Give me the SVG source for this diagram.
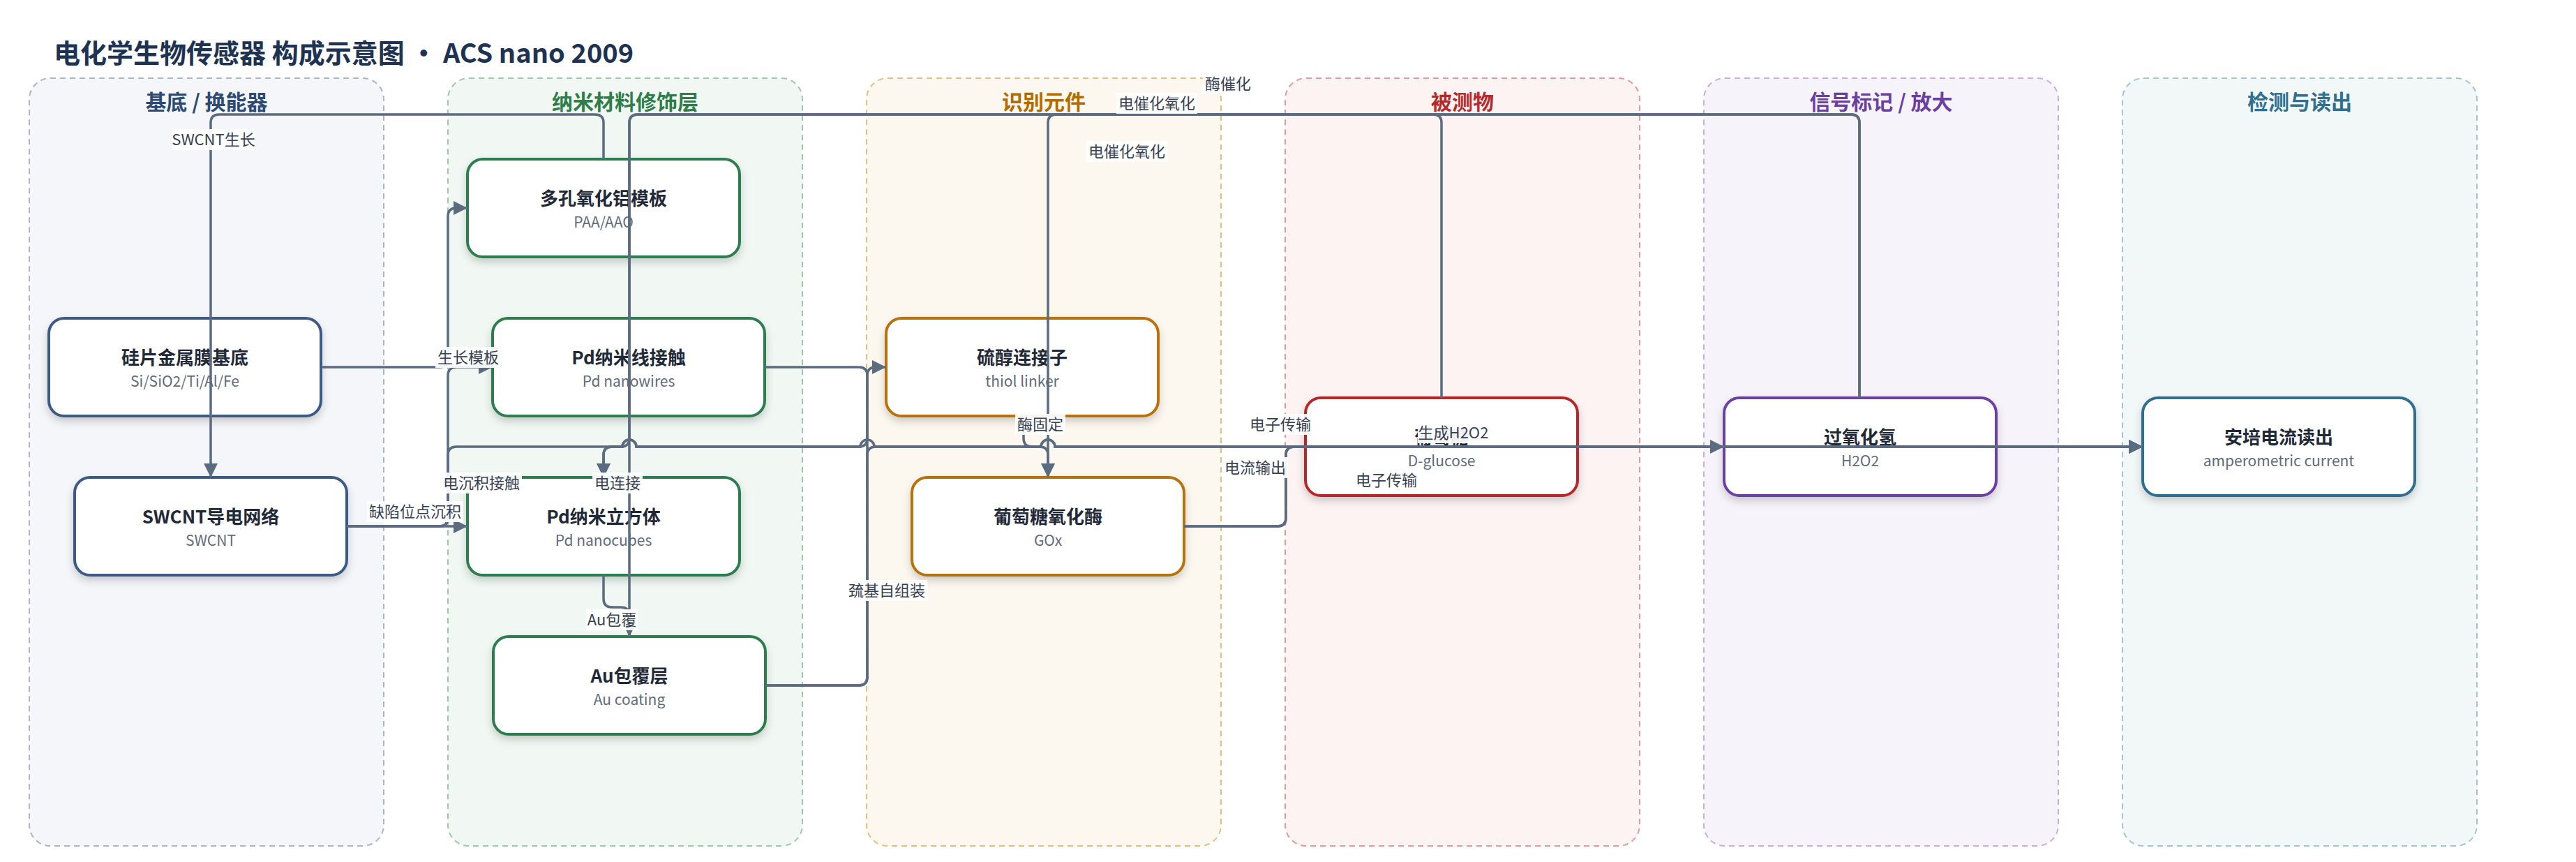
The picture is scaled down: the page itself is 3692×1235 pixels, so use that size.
<svg xmlns="http://www.w3.org/2000/svg" width="3692" height="1235" viewBox="0 0 3692 1235">
<defs>
<style>
text{font-family:"Noto Sans CJK SC","Noto Sans",sans-serif}
.title{font-size:38px;font-weight:700;fill:#1e3352}
.lt{font-size:30px;font-weight:700;text-anchor:middle}
.lane{stroke-width:2;stroke-dasharray:8 6}
.node{fill:#fff;stroke-width:4;filter:url(#sh)}
.nt{font-size:26px;font-weight:700;fill:#1f2937;text-anchor:middle}
.ns{font-size:21px;fill:#5f6b7a;text-anchor:middle}
.edge{fill:none;stroke:#5b6b80;stroke-width:3.5;marker-end:url(#arr)}
.lb{fill:#fff;fill-opacity:0.92}
.el{font-size:22px;fill:#374151;text-anchor:middle}
</style>
<filter id="sh" x="-10%" y="-10%" width="120%" height="140%">
<feDropShadow dx="0" dy="6" stdDeviation="6" flood-color="#000" flood-opacity="0.18"/>
</filter>
<marker id="arr" markerUnits="userSpaceOnUse" markerWidth="20" markerHeight="20" refX="20" refY="10" orient="auto">
<path d="M0,0 L20,10 L0,20 z" fill="#5b6b80"/>
</marker>
</defs>
<rect width="3692" height="1235" fill="#fff"/>
<text class="title" x="77" y="90">电化学生物传感器 构成示意图 · ACS nano 2009</text>

<g id="lanes">
<g id="lane-substrate"><rect class="lane" x="42" y="112" width="508" height="1100" rx="30" fill="#f4f6fa" stroke="#a9b5c9"/><text class="lt" x="296" y="157" fill="#2c4a72">基底 / 换能器</text></g>
<g id="lane-nano"><rect class="lane" x="642" y="112" width="508" height="1100" rx="30" fill="#f1f8f3" stroke="#9ccaa9"/><text class="lt" x="896" y="157" fill="#2e7d4a">纳米材料修饰层</text></g>
<g id="lane-recog"><rect class="lane" x="1242" y="112" width="508" height="1100" rx="30" fill="#fdf8ef" stroke="#e2bf80"/><text class="lt" x="1496" y="157" fill="#b36b00">识别元件</text></g>
<g id="lane-analyte"><rect class="lane" x="1842" y="112" width="508" height="1100" rx="30" fill="#fdf3f3" stroke="#e49a9a"/><text class="lt" x="2096" y="157" fill="#b52a2a">被测物</text></g>
<g id="lane-signal"><rect class="lane" x="2442" y="112" width="508" height="1100" rx="30" fill="#f6f3fb" stroke="#c6afe0"/><text class="lt" x="2696" y="157" fill="#6b3fa0">信号标记 / 放大</text></g>
<g id="lane-readout"><rect class="lane" x="3042" y="112" width="508" height="1100" rx="30" fill="#f2f7f8" stroke="#a4c4cf"/><text class="lt" x="3296" y="157" fill="#2f6f8f">检测与读出</text></g>
</g>

<g id="nodes">
<g id="n-si"><rect class="node" x="70" y="456" width="390" height="140" rx="22" stroke="#3d5a85"/><text class="nt" x="265" y="522">硅片金属膜基底</text><text class="ns" x="265" y="554">Si/SiO2/Ti/Al/Fe</text></g>
<g id="n-swcnt"><rect class="node" x="107" y="684" width="390" height="140" rx="22" stroke="#3d5a85"/><text class="nt" x="302" y="750">SWCNT导电网络</text><text class="ns" x="302" y="782">SWCNT</text></g>
<g id="n-paa"><rect class="node" x="670" y="228" width="390" height="140" rx="22" stroke="#2e7d4f"/><text class="nt" x="865" y="294">多孔氧化铝模板</text><text class="ns" x="865" y="326">PAA/AAO</text></g>
<g id="n-pdnw"><rect class="node" x="706" y="456" width="390" height="140" rx="22" stroke="#2e7d4f"/><text class="nt" x="901" y="522">Pd纳米线接触</text><text class="ns" x="901" y="554">Pd nanowires</text></g>
<g id="n-pdnc"><rect class="node" x="670" y="684" width="390" height="140" rx="22" stroke="#2e7d4f"/><text class="nt" x="865" y="750">Pd纳米立方体</text><text class="ns" x="865" y="782">Pd nanocubes</text></g>
<g id="n-au"><rect class="node" x="707" y="912" width="390" height="140" rx="22" stroke="#2e7d4f"/><text class="nt" x="902" y="978">Au包覆层</text><text class="ns" x="902" y="1010">Au coating</text></g>
<g id="n-thiol"><rect class="node" x="1270" y="456" width="390" height="140" rx="22" stroke="#b8720a"/><text class="nt" x="1465" y="522">硫醇连接子</text><text class="ns" x="1465" y="554">thiol linker</text></g>
<g id="n-gox"><rect class="node" x="1307" y="684" width="390" height="140" rx="22" stroke="#b8720a"/><text class="nt" x="1502" y="750">葡萄糖氧化酶</text><text class="ns" x="1502" y="782">GOx</text></g>
<g id="n-glucose"><rect class="node" x="1871" y="570" width="390" height="140" rx="22" stroke="#b8282a"/><text class="nt" x="2066" y="636">葡萄糖</text><text class="ns" x="2066" y="668">D-glucose</text></g>
<g id="n-h2o2"><rect class="node" x="2471" y="570" width="390" height="140" rx="22" stroke="#6b3fa0"/><text class="nt" x="2666" y="636">过氧化氢</text><text class="ns" x="2666" y="668">H2O2</text></g>
<g id="n-amp"><rect class="node" x="3071" y="570" width="390" height="140" rx="22" stroke="#2e6e8e"/><text class="nt" x="3266" y="636">安培电流读出</text><text class="ns" x="3266" y="668">amperometric current</text></g>
</g>

<g id="connectors">
<path class="edge" d="M865,228 V176 Q865,164 853,164 H314 Q302,164 302,176 V684"/>
<path class="edge" d="M461,526 H630 Q642,526 642,514 V310 Q642,298 654,298 H670"/>
<path class="edge" d="M497,754 H630 Q642,754 642,742 V538 Q642,526 654,526 H706"/>
<path class="edge" d="M497,754 H670"/>
<path class="edge" d="M865,824 V858 Q865,870 877,870 H890 Q902,870 902,882 V912"/>
<path class="edge" d="M1097,982 H1231 Q1243,982 1243,970 V538 Q1243,526 1255,526 H1270"/>
<path class="edge" d="M1096,526 H1231 Q1243,526 1243,538 V628 Q1243,640 1231,640 H912 A10,10 0 0 0 892,640 H877 Q865,640 865,652 V684"/>
<path class="edge" d="M1467,596 V628 Q1467,640 1479,640 H1490 Q1502,640 1502,652 V684"/>
<path class="edge" d="M1697,754 H1831 Q1843,754 1843,742 V652 Q1843,640 1855,640 H2471"/>
<path class="edge" d="M2861,640 H3071"/>
<path class="edge" d="M1697,754 H1831 Q1843,754 1843,742 V652 Q1843,640 1855,640 H3071"/>
<path class="edge" d="M497,754 H630 Q642,754 642,742 V652 Q642,640 654,640 H892 A10,10 0 0 1 912,640 H1233 A10,10 0 0 1 1253,640 H1492 A10,10 0 0 1 1512,640 H3071"/>
<path class="edge" d="M1097,982 H1231 Q1243,982 1243,970 V652 Q1243,640 1255,640 H1492 A10,10 0 0 1 1512,640 H3071"/>
<path class="edge" d="M2665,570 V176 Q2665,164 2653,164 H914 Q902,164 902,176 V912"/>
<path class="edge" d="M2066,570 V176 Q2066,164 2054,164 H1514 Q1502,164 1502,176 V684"/>
<path class="edge" d="M2665,570 V176 Q2665,164 2653,164 H914 Q902,164 902,176 V628 Q902,640 890,640 H877 Q865,640 865,652 V684"/>
</g>

<g id="edge-labels">
<rect class="lb" x="247" y="185" width="118" height="30"/><text class="el" x="306" y="208">SWCNT生长</text>
<rect class="lb" x="624" y="497" width="94" height="30"/><text class="el" x="671" y="520">生长模板</text>
<rect class="lb" x="632" y="677" width="116" height="30"/><text class="el" x="690" y="700">电沉积接触</text>
<rect class="lb" x="849" y="677" width="72" height="30"/><text class="el" x="885" y="700">电连接</text>
<rect class="lb" x="526" y="718" width="138" height="30"/><text class="el" x="595" y="741">缺陷位点沉积</text>
<rect class="lb" x="840" y="873" width="74" height="30"/><text class="el" x="877" y="896">Au包覆</text>
<rect class="lb" x="1213" y="831" width="116" height="30"/><text class="el" x="1271" y="854">巯基自组装</text>
<rect class="lb" x="1455" y="593" width="72" height="30"/><text class="el" x="1491" y="616">酶固定</text>
<rect class="lb" x="1788" y="593" width="94" height="30"/><text class="el" x="1835" y="616">电子传输</text>
<rect class="lb" x="1752" y="655" width="94" height="30"/><text class="el" x="1799" y="678">电流输出</text>
<rect class="lb" x="1940" y="673" width="94" height="30"/><text class="el" x="1987" y="696">电子传输</text>
<rect class="lb" x="2032" y="605" width="102" height="30"/><text class="el" x="2083" y="628">生成H2O2</text>
<rect class="lb" x="1600" y="133" width="116" height="30"/><text class="el" x="1658" y="156">电催化氧化</text>
<rect class="lb" x="1557" y="202" width="116" height="30"/><text class="el" x="1615" y="225">电催化氧化</text>
<rect class="lb" x="1724" y="105" width="72" height="30"/><text class="el" x="1760" y="128">酶催化</text>
</g>
</svg>
